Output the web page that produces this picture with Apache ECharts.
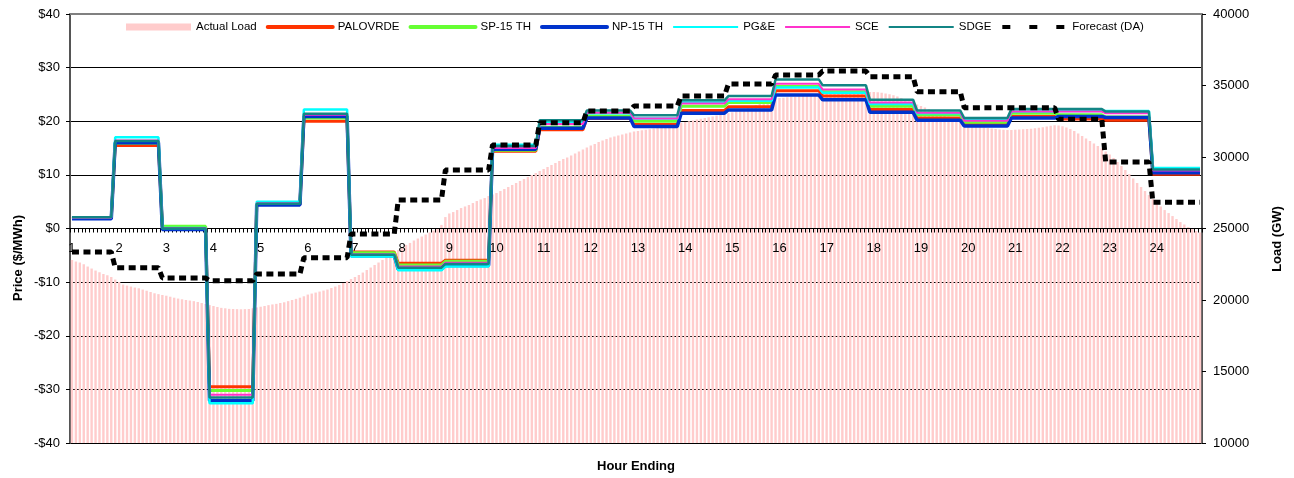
<!DOCTYPE html>
<html>
<head>
<meta charset="utf-8">
<script src="https://cdn.jsdelivr.net/npm/echarts@6/dist/echarts.min.js"></script>
<style>
  html, body { margin: 0; padding: 0; background: #fff; }
  #chart { width: 1294px; height: 478px; }
</style>
</head>
<body>
<div id="chart"></div>
<script>
// hour-ending tick labels (one every 12 five-minute intervals)
const hours = [1, 2, 3, 4, 5, 6, 7, 8, 9, 10, 11, 12, 13, 14, 15, 16, 17, 18, 19, 20, 21, 22, 23, 24];

// actual load, 5-minute intervals (12 per hour)
const actualLoad = [
  22800, 22690, 22620, 22500, 22340, 22200, 22060, 21940, 21820, 21730, 21610, 21430,
  21260, 21080, 21010, 20940, 20870, 20820, 20730, 20650, 20560, 20470, 20410, 20350,
  20300, 20230, 20160, 20100, 20050, 20000, 19960, 19920, 19860, 19790, 19720, 19650,
  19580, 19510, 19450, 19420, 19380, 19370, 19360, 19350, 19360, 19370, 19420, 19480,
  19530, 19580, 19640, 19690, 19730, 19790, 19840, 19920, 20000, 20080, 20160, 20260,
  20380, 20450, 20520, 20590, 20660, 20730, 20840, 20940, 21050, 21190, 21330, 21470,
  21610, 21750, 21920, 22100, 22270, 22450, 22620, 22800, 22970, 23150, 23320, 23500,
  23670, 23850, 23990, 24160, 24300, 24440, 24580, 24720, 24860, 25000, 25250, 25800,
  26050, 26150, 26290, 26430, 26540, 26640, 26780, 26920, 27030, 27130, 27270, 27380,
  27480, 27620, 27760, 27900, 28040, 28180, 28320, 28460, 28600, 28740, 28880, 29020,
  29160, 29300, 29440, 29580, 29720, 29860, 29960, 30100, 30240, 30380, 30520, 30660,
  30800, 30910, 31050, 31150, 31260, 31360, 31430, 31500, 31570, 31640, 31710, 31780,
  31820, 31870, 31910, 31940, 31990, 32030, 32100, 32170, 32220, 32280, 32340, 32390,
  32450, 32500, 32560, 32620, 32670, 32730, 32780, 32840, 32900, 32950, 33010, 33060,
  33130, 33200, 33290, 33370, 33460, 33550, 33640, 33740, 33850, 33950, 34020, 34090,
  34130, 34150, 34170, 34200, 34220, 34240, 34270, 34290, 34320, 34350, 34380, 34410,
  34430, 34450, 34480, 34500, 34510, 34520, 34540, 34550, 34550, 34560, 34560, 34550,
  34550, 34520, 34490, 34440, 34380, 34310, 34230, 34130, 34000, 33880, 33780, 33670,
  33570, 33460, 33360, 33250, 33150, 33040, 32940, 32830, 32730, 32640, 32550, 32470,
  32380, 32290, 32220, 32150, 32080, 32030, 31990, 31950, 31920, 31900, 31890, 31890,
  31900, 31920, 31940, 31960, 31980, 32010, 32040, 32080, 32130, 32180, 32220, 32200,
  32150, 32060, 31960, 31820, 31640, 31470, 31290, 31120, 30940, 30770, 30590, 30380,
  30180, 29930, 29650, 29370, 29090, 28810, 28500, 28180, 27900, 27620, 27340, 27060,
  26780, 26540, 26290, 26080, 25870, 25660, 25450, 25280, 25100, 24960, 24820, 24720
];

// hourly prices ($/MWh)
const palovrde = [2.0, 15.5, 0.3, -29.5, 4.5, 20.0, -4.4, -6.5, -5.9, 14.4, 18.4, 20.5, 19.4, 22.0, 22.7, 25.7, 24.7, 22.2, 20.6, 19.4, 20.9, 20.4, 20.2, 10.1];
const sp15     = [2.0, 15.9, 0.4, -30.2, 4.6, 20.6, -4.5, -6.8, -6.1, 14.6, 18.9, 21.0, 20.0, 22.8, 23.5, 26.5, 25.5, 22.8, 21.2, 19.8, 21.5, 21.2, 20.8, 10.5];
const np15     = [1.8, 16.0, -0.2, -32.1, 4.4, 20.9, -5.1, -7.6, -6.9, 14.8, 18.7, 20.6, 19.0, 21.5, 22.1, 24.9, 24.0, 21.7, 20.2, 19.1, 20.6, 20.9, 20.7, 10.4];
const pge      = [2.1, 17.0, 0.1, -32.6, 5.0, 22.2, -5.2, -7.8, -7.1, 15.6, 19.8, 21.5, 20.5, 23.5, 23.8, 26.3, 25.3, 23.2, 21.5, 20.3, 21.8, 21.9, 21.9, 11.3];
const sce      = [2.0, 16.4, 0.1, -31.0, 4.7, 21.2, -4.8, -7.1, -6.4, 15.0, 19.5, 21.6, 20.5, 23.3, 24.1, 27.0, 25.9, 23.5, 21.6, 20.1, 21.8, 21.8, 21.5, 10.8];
const sdge     = [2.1, 16.3, 0.0, -31.5, 4.6, 21.4, -4.9, -7.3, -6.6, 15.4, 20.2, 22.0, 21.1, 23.9, 24.7, 27.8, 26.7, 24.0, 22.0, 20.6, 22.3, 22.3, 21.8, 11.0];

// day-ahead load forecast, hourly
const forecast = [23360, 22260, 21540, 21350, 21820, 22960, 24620, 26990, 29090, 30840, 32400, 33220, 33570, 34270, 35100, 35730, 36010, 35610, 34570, 33450, 33450, 32640, 29650, 26830];

const FONT = '"Liberation Sans", Arial, sans-serif';
const GRID_TOP = 14;
const GRID_BOTTOM = 35;
const PLOT_H = 478 - GRID_TOP - GRID_BOTTOM;

// 5-minute category slots, hour number shown at the first slot of each hour
const slots = actualLoad.map((v, i) => String(i));

// hourly value -> flat segment across its 12 slots (step shape of the original)
function hourSteps(vals) {
  const out = [];
  vals.forEach((v, h) => {
    out.push([h === 0 ? 0 : 12 * h - 1, v]);
    out.push([h === vals.length - 1 ? slots.length - 1 : 12 * h + 10, v]);
  });
  return out;
}

function priceLine(name, vals, color, width) {
  return {
    name: name,
    type: 'line',
    data: hourSteps(vals),
    symbol: 'none',
    showSymbol: false,
    z: 4,
    lineStyle: { color: color, width: width },
    itemStyle: { color: color, opacity: 0 }
  };
}

const chart = echarts.init(document.getElementById('chart'));

chart.setOption({
  animation: false,
  backgroundColor: '#fff',
  textStyle: { fontFamily: FONT },
  grid: { left: 70, right: 92, top: GRID_TOP, bottom: GRID_BOTTOM },
  legend: {
    left: 126,
    top: 21,
    padding: 0,
    itemWidth: 65,
    itemHeight: 7,
    itemGap: 9,
    textStyle: { fontSize: 11.5, color: '#000', fontFamily: FONT },
    data: [
      { name: 'Actual Load', icon: 'rect', itemStyle: { color: '#FFCCCC' } },
      { name: 'PALOVRDE', itemStyle: { opacity: 0 }, lineStyle: { width: 4, cap: 'round' } },
      { name: 'SP-15 TH', itemStyle: { opacity: 0 }, lineStyle: { width: 4, cap: 'round' } },
      { name: 'NP-15 TH', itemStyle: { opacity: 0 }, lineStyle: { width: 4, cap: 'round' } },
      { name: 'PG&E', itemStyle: { opacity: 0 }, lineStyle: { width: 2 } },
      { name: 'SCE', itemStyle: { opacity: 0 }, lineStyle: { width: 2 } },
      { name: 'SDGE', itemStyle: { opacity: 0 }, lineStyle: { width: 2 } },
      { name: 'Forecast (DA)', itemStyle: { opacity: 0 }, lineStyle: { width: 4, type: [8, 19] } }
    ]
  },
  xAxis: [
    {
      // hour axis drawn along the $0 line
      type: 'category',
      data: slots,
      boundaryGap: true,
      position: 'bottom',
      offset: -PLOT_H / 2,
      z: 3,
      axisLine: { onZero: false, lineStyle: { color: '#000', width: 1 } },
      axisTick: { show: true, interval: 0, length: 4, lineStyle: { color: '#000' } },
      axisLabel: {
        interval: (i) => i % 12 === 0,
        formatter: (v, i) => String(hours[Math.floor(i / 12)]),
        fontSize: 13,
        color: '#000',
        margin: 13,
        fontFamily: FONT
      },
      splitLine: { show: false }
    },
    {
      type: 'category',
      data: slots,
      position: 'top',
      axisLine: { onZero: false, lineStyle: { color: '#808080', width: 2 } },
      axisTick: { show: false },
      axisLabel: { show: false },
      splitLine: { show: false }
    }
  ],
  yAxis: [
    {
      type: 'value',
      min: -40,
      max: 40,
      interval: 10,
      position: 'left',
      axisLine: { show: true, onZero: false, lineStyle: { color: '#555', width: 2 } },
      axisTick: { show: true, length: 4, lineStyle: { color: '#000' } },
      axisLabel: {
        formatter: (v) => (v < 0 ? '-$' : '$') + Math.abs(v),
        fontSize: 13,
        color: '#000',
        margin: 10,
        fontFamily: FONT
      },
      splitLine: { show: true, lineStyle: { color: '#000', width: 1 } }
    },
    {
      type: 'value',
      min: 10000,
      max: 40000,
      interval: 5000,
      position: 'right',
      axisLine: { show: true, onZero: false, lineStyle: { color: '#555', width: 2 } },
      axisTick: { show: true, length: 4, lineStyle: { color: '#000' } },
      axisLabel: {
        formatter: (v) => String(v),
        fontSize: 13,
        color: '#000',
        margin: 11,
        fontFamily: FONT
      },
      splitLine: { show: false }
    }
  ],
  graphic: [
    {
      type: 'text', x: 18, y: 258, rotation: Math.PI / 2,
      style: { text: 'Price ($/MWh)', font: 'bold 13px ' + FONT, fill: '#000', textAlign: 'center', textVerticalAlign: 'middle' }
    },
    {
      type: 'text', x: 1277, y: 239, rotation: Math.PI / 2,
      style: { text: 'Load (GW)', font: 'bold 13px ' + FONT, fill: '#000', textAlign: 'center', textVerticalAlign: 'middle' }
    },
    {
      type: 'text', x: 636, y: 466,
      style: { text: 'Hour Ending', font: 'bold 13px ' + FONT, fill: '#000', textAlign: 'center', textVerticalAlign: 'middle' }
    }
  ],
  series: [
    {
      name: 'Actual Load',
      type: 'bar',
      yAxisIndex: 1,
      data: actualLoad,
      barWidth: 2.4,
      clip: true,
      z: 2,
      itemStyle: { color: '#FFCCCC' }
    },
    priceLine('PALOVRDE', palovrde, '#FF3300', 3),
    priceLine('SP-15 TH', sp15, '#66FF33', 3),
    priceLine('NP-15 TH', np15, '#0033CC', 3.5),
    priceLine('PG&E', pge, '#00FFFF', 2.5),
    priceLine('SCE', sce, '#FF33CC', 2),
    priceLine('SDGE', sdge, '#138585', 2.5),
    {
      name: 'Forecast (DA)',
      type: 'line',
      yAxisIndex: 1,
      data: hourSteps(forecast),
      symbol: 'none',
      showSymbol: false,
      z: 5,
      lineStyle: { color: '#000', width: 5, type: [7, 4.5] },
      itemStyle: { color: '#000', opacity: 0 }
    }
  ]
});
</script>
</body>
</html>
